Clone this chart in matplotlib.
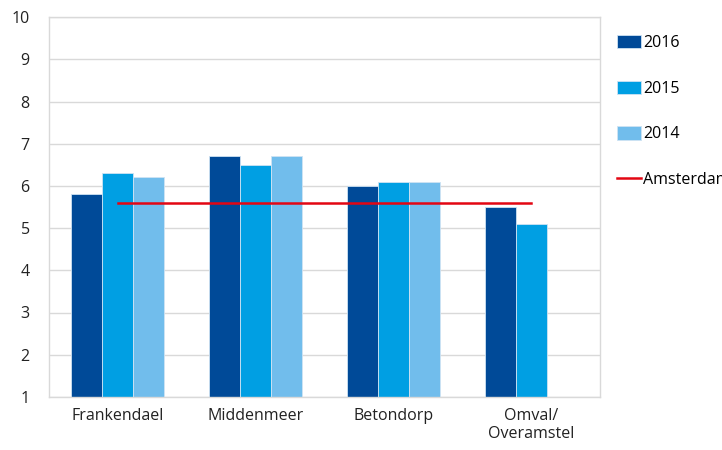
import matplotlib.pyplot as plt
import numpy as np

plt.rcParams['font.family'] = ['Open Sans', 'DejaVu Sans']

# data
buurten = ['Frankendael', 'Middenmeer', 'Betondorp', 'Omval/\nOveramstel']
jaren = ['2016', '2015', '2014']
waarden_2016 = [5.8, 6.7, 6.0, 5.5]
waarden_2015 = [6.3, 6.5, 6.1, 5.1]
waarden_2014 = [6.2, 6.7, 6.1, np.nan]
amsterdam = [5.6, 5.6, 5.6, 5.6]

kleuren = ['#004A98', '#009FE3', '#71BDEC']

fig = plt.figure(figsize=(7.22, 4.5), dpi=100)
ax = fig.add_axes([0.068, 0.118, 0.763, 0.844])

x = np.arange(len(buurten))
w = 0.225
reeksen = [waarden_2016, waarden_2015, waarden_2014]
for i, (jaar, vals) in enumerate(zip(jaren, reeksen)):
    ax.bar(x + (i - 1) * w, np.array(vals) - 1, w, bottom=1, color=kleuren[i],
           edgecolor='#cfe3f3', linewidth=0.6, label=jaar, zorder=2)

ax.plot(x, amsterdam, color='#E30613', linewidth=1.8, label='Amsterdam', zorder=3)

ax.set_xlim(-0.5, len(buurten) - 0.5)
ax.set_ylim(1, 10)
ax.set_yticks(range(1, 11))
ax.set_xticks(x)
ax.set_xticklabels(buurten)
ax.tick_params(axis='both', length=0, labelsize=11.5, colors='#222222')
ax.tick_params(axis='y', pad=14)
ax.tick_params(axis='x', pad=8)
ax.yaxis.grid(True, color='#d9d9d9', linewidth=1)
ax.set_axisbelow(True)
for s in ax.spines.values():
    s.set_color('#d9d9d9')
    s.set_linewidth(1)

# bars first, red line last, like the original legend
handles, labels = ax.get_legend_handles_labels()
handles = handles[1:] + handles[:1]
labels = labels[1:] + labels[:1]
ax.legend(handles, labels, loc='upper left', bbox_to_anchor=(1.02, 0.97),
          frameon=False, fontsize=11.5, handlelength=1.5, handleheight=0.9,
          handletextpad=0.1, labelspacing=1.85, borderaxespad=0)

plt.savefig('out.png', dpi=100)
